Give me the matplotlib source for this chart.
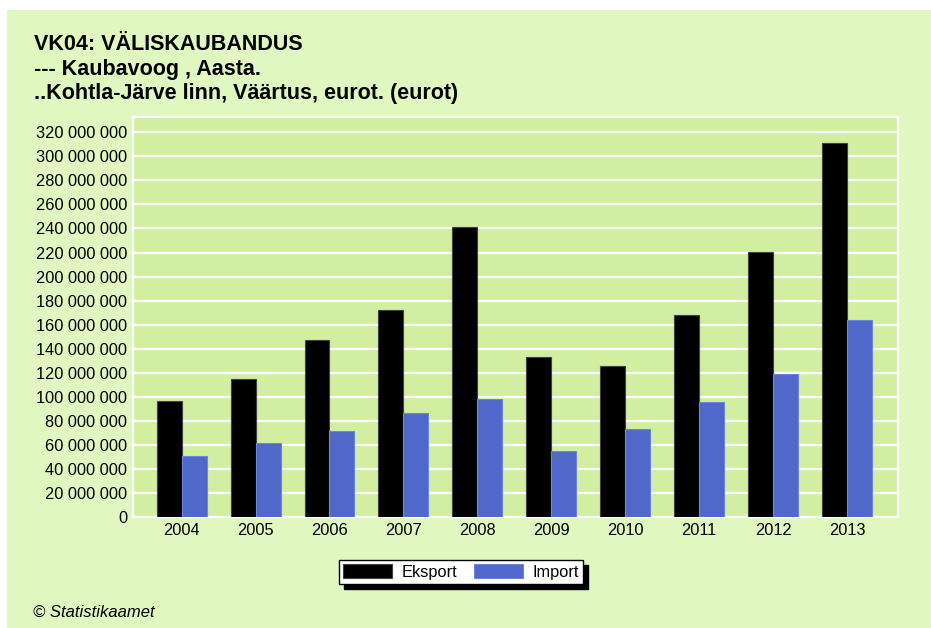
import numpy as np
import matplotlib
matplotlib.use("Agg")
import matplotlib.pyplot as plt
from matplotlib.patches import Rectangle
from matplotlib.ticker import FuncFormatter

plt.rcParams["font.family"] = ["Liberation Sans", "DejaVu Sans"]

# ---------------------------------------------------------------------------
# Data (eurot)
# ---------------------------------------------------------------------------
years = ["2004", "2005", "2006", "2007", "2008", "2009", "2010", "2011", "2012", "2013"]
eksport = [96.2e6, 114.8e6, 147.3e6, 172.2e6, 241.3e6, 133.1e6, 125.3e6, 168.3e6, 220.2e6, 311.4e6]
import_ = [51.0e6, 61.6e6, 71.8e6, 86.2e6, 97.9e6, 54.9e6, 72.9e6, 95.4e6, 119.0e6, 164.2e6]
series_labels = ["Eksport", "Import"]
title_lines = [
    "VK04: VÄLISKAUBANDUS",
    "--- Kaubavoog , Aasta.",
    "..Kohtla-Järve linn, Väärtus, eurot. (eurot)",
]

W, H = 931, 628
fig = plt.figure(figsize=(W / 100, H / 100), dpi=100, facecolor="white")

# green panel (small white margin top/left)
fig.patches.append(Rectangle((7 / W, 0), 1 - 7 / W + 0.01, 1 - 10 / H,
                             transform=fig.transFigure, facecolor="#E0F8C0",
                             edgecolor="none", zorder=-10))

ax = fig.add_axes([132.7 / W, (H - 517) / H, 765.3 / W, 400.3 / H])
ax.set_facecolor("#D2EEA0")

x = np.arange(len(years))
bw = 0.338
ax.bar(x - bw / 2, eksport, width=bw, color="black", edgecolor="#404040",
       linewidth=0.8, label=series_labels[0], zorder=3)
ax.bar(x + bw / 2, import_, width=bw, color="#5168CB", edgecolor="#6F86E0",
       linewidth=0.8, label=series_labels[1], zorder=3)

ax.set_xlim(-0.662, 9.69)
ax.set_ylim(0, 333e6)
ax.set_yticks(np.arange(0, 320e6 + 1, 20e6))
ax.yaxis.set_major_formatter(FuncFormatter(lambda v, p: f"{int(v):,}".replace(",", " ")))
ax.set_xticks(x)
ax.set_xticklabels(years)
ax.tick_params(length=0, labelsize=11.8, colors="black", pad=4)
ax.grid(axis="y", color="white", linewidth=1.6, zorder=1)
for s in ax.spines.values():
    s.set_color("white")
    s.set_linewidth(1.6)

# titles
for i, line in enumerate(title_lines):
    fig.text(34 / W, 1 - (44 + 25 * i) / H, line, fontsize=15.5, fontweight="bold",
             va="center", ha="left")

leg = fig.legend(loc="center", bbox_to_anchor=(461 / W, (H - 572) / H), ncol=2,
                 fontsize=11.8, frameon=True, fancybox=False, edgecolor="black",
                 framealpha=1, handlelength=3.0, handleheight=0.9, borderpad=0.25,
                 columnspacing=1.0, handletextpad=0.6,
                 shadow={"color": "black", "alpha": 1, "ox": 3.5, "oy": -3.5})
leg.get_frame().set_linewidth(1.0)

fig.text(33 / W, 1 - 612 / H, "© Statistikaamet", fontsize=12, style="italic",
         va="center", ha="left")

fig.savefig("out.png", dpi=100, facecolor=fig.get_facecolor())
